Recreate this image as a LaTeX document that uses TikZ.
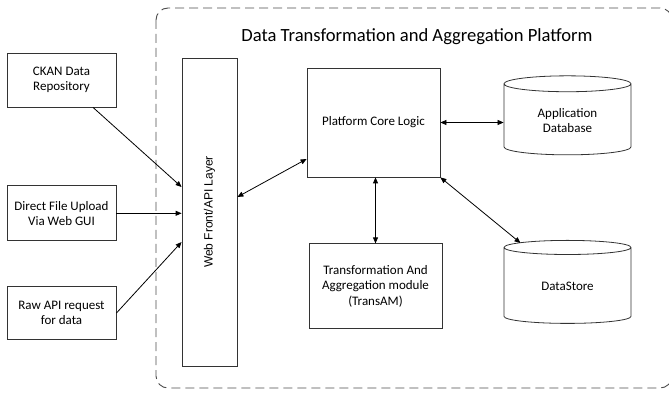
\documentclass[tikz,border=0pt]{standalone}
\usepackage{fontspec}
\setmainfont{Carlito}
\newfontfamily\arialfont{Liberation Sans}
\usetikzlibrary{positioning, shapes.geometric, arrows.meta}

\tikzset{
  box/.style={draw=black!80, line width=0.8pt, align=center,
              font=\fontsize{13}{15.5}\selectfont, inner sep=2pt},
  store/.style={box, cylinder, shape border rotate=90, shape aspect=0.25},
  link/.style={-{Triangle[length=6pt,width=5pt]}, line width=0.8pt},
  both/.style={{Triangle[length=6pt,width=5pt]}-{Triangle[length=6pt,width=5pt]}, line width=0.8pt},
}

\begin{document}
\begin{tikzpicture}[x=1pt, y=1pt]
  \useasboundingbox (0,0) rectangle (669,-395);

  % platform boundary
  \draw[black!70, dash pattern=on 9pt off 5pt, line width=0.9pt, rounded corners=12pt]
    (156,-8) rectangle (672,-388);
  \node[font=\fontsize{18.6}{21}\selectfont] (title) at (417,-37)
    {Data Transformation and Aggregation Platform};

  % data sources
  \node[box, minimum width=109pt, minimum height=54pt] (ckan) at (61.5,-80)
    {CKAN Data\\Repository};
  \node[box, minimum width=109pt, minimum height=55pt, below=78pt of ckan] (upload)
    {Direct File Upload\\Via Web GUI};
  \node[box, minimum width=109pt, minimum height=53pt, below=45pt of upload] (rawapi)
    {Raw API request\\for data};

  % platform parts
  \node[box, minimum width=55pt, minimum height=308pt] (web) at (209.5,-212) {};
  \node[rotate=90, font=\arialfont\fontsize{12}{14}\selectfont] (weblabel) at (web.center)
    {Web Front/API Layer};
  \node[box, minimum width=133pt, minimum height=109pt] (core) at (373.5,-122.5)
    {Platform Core Logic};
  \node[box, minimum width=133pt, minimum height=85pt, below=66pt of core, xshift=2pt] (transam)
    {Transformation And\\Aggregation module\\(TransAM)};
  \node[store, minimum width=127pt, minimum height=79pt] (appdb) at (567.5,-120.5)
    {Application\\Database};
  \node[store, minimum width=127pt, minimum height=83pt] (datastore) at (567.5,-286.5)
    {DataStore};

  % connectors
  \draw[link] ([xshift=31.5pt]ckan.south) -- ([yshift=25pt]web.west);
  \draw[link] (upload.east) -- (upload.east -| web.west);
  \draw[link] (rawapi.east) -- ([yshift=-30pt]web.west);
  \draw[both] ([yshift=15pt]web.east) -- ([yshift=-36.5pt]core.west);
  \draw[both] (core.east) -- (core.east -| appdb.west);
  \draw[both] (transam.north |- core.south) -- (transam.north);
  \draw[both] (core.south east) -- ([xshift=-47pt,yshift=-3pt]datastore.north);

\end{tikzpicture}
\end{document}
